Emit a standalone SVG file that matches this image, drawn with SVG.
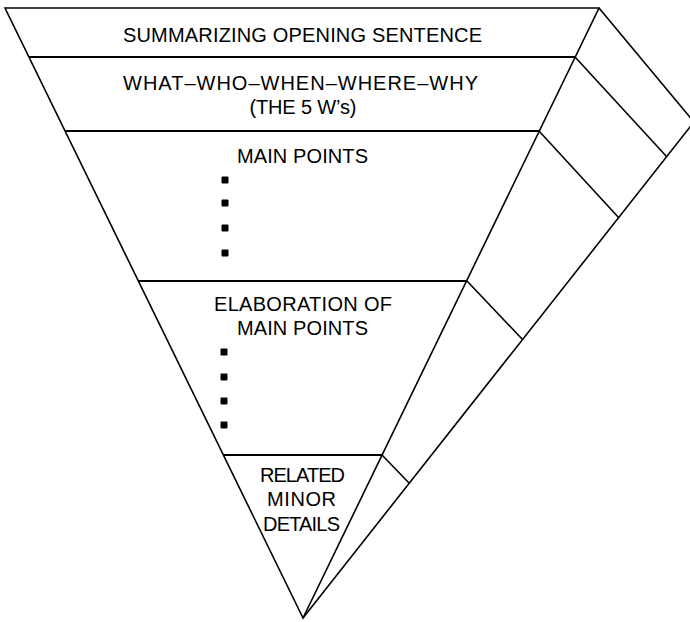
<svg xmlns="http://www.w3.org/2000/svg" width="690" height="622" viewBox="0 0 690 622">
  <style>
    .edge { fill: none; stroke: #000; stroke-width: 1.6; stroke-linejoin: miter; }
    .band { fill: none; stroke: #000; stroke-width: 2; }
    .label { font-family: "Liberation Sans", Arial, sans-serif; font-size: 20px; fill: #000; text-anchor: middle; }
    .dot { fill: #000; }
  </style>
  <defs>
    <rect id="bullet" x="-3.5" y="-3.5" width="7" height="7" rx="1"/>
  </defs>
  <rect width="690" height="622" fill="#fff"/>

  <!-- outline of the inverted pyramid: front face and side face -->
  <g id="outline">
    <polygon class="edge" points="5,8 599,8 303,618"/>
    <polyline class="edge" points="599,8 694,122 303,618"/>
  </g>

  <!-- side-face dividers continuing each band -->
  <g id="side-dividers">
    <line class="edge" x1="575" y1="57" x2="667" y2="157"/>
    <line class="edge" x1="539" y1="131" x2="619" y2="218"/>
    <line class="edge" x1="467" y1="281" x2="523" y2="340"/>
    <line class="edge" x1="382" y1="455" x2="409" y2="483"/>
  </g>

  <g id="band-opening">
    <text class="label" x="302.5" y="42" textLength="359" lengthAdjust="spacing">SUMMARIZING OPENING SENTENCE</text>
  </g>

  <g id="band-5ws">
    <line class="band" x1="29" y1="57" x2="575" y2="57"/>
    <text class="label" x="300.5" y="89.5" textLength="355" lengthAdjust="spacing">WHAT–WHO–WHEN–WHERE–WHY</text>
    <text class="label" x="303" y="114" textLength="107" lengthAdjust="spacing">(THE 5 W’s)</text>
  </g>

  <g id="band-main-points">
    <line class="band" x1="65" y1="131" x2="539" y2="131"/>
    <text class="label" x="302.5" y="163" textLength="131" lengthAdjust="spacing">MAIN POINTS</text>
    <use href="#bullet" class="dot" x="225" y="180"/>
    <use href="#bullet" class="dot" x="225" y="203"/>
    <use href="#bullet" class="dot" x="225" y="228"/>
    <use href="#bullet" class="dot" x="225" y="253"/>
  </g>

  <g id="band-elaboration">
    <line class="band" x1="138" y1="281" x2="467" y2="281"/>
    <text class="label" x="303" y="311" textLength="178" lengthAdjust="spacing">ELABORATION OF</text>
    <text class="label" x="302.5" y="335" textLength="131" lengthAdjust="spacing">MAIN POINTS</text>
    <use href="#bullet" class="dot" x="224" y="352"/>
    <use href="#bullet" class="dot" x="224" y="377"/>
    <use href="#bullet" class="dot" x="224" y="401"/>
    <use href="#bullet" class="dot" x="224" y="425"/>
  </g>

  <g id="band-minor-details">
    <line class="band" x1="223" y1="455" x2="382" y2="455"/>
    <text class="label" x="302.5" y="482" textLength="85" lengthAdjust="spacing">RELATED</text>
    <text class="label" x="301.5" y="506" textLength="69" lengthAdjust="spacing">MINOR</text>
    <text class="label" x="301.5" y="531" textLength="77" lengthAdjust="spacing">DETAILS</text>
  </g>
</svg>
